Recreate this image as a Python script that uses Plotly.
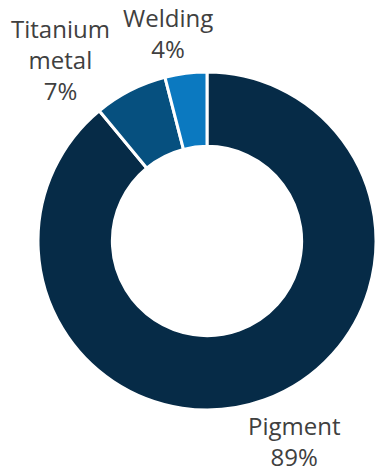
import plotly.graph_objects as go

labels = ["Pigment", "Titanium metal", "Welding"]
label_text = ["Pigment", "Titanium<br>metal", "Welding"]
values = [89, 7, 4]
colors = ["#062b47", "#06507f", "#0b79c0"]

# where each label block sits (pixels from top-left of the 377x474 page)
label_pos = [(294, 441), (60, 59), (168, 33)]

W, H = 377, 474

fig = go.Figure()

fig.add_trace(go.Pie(
    labels=labels,
    values=values,
    textinfo="none",
    hole=0.56,
    sort=False,
    direction="clockwise",
    rotation=0,
    marker=dict(colors=colors, line=dict(color="white", width=3)),
    domain=dict(x=[38 / W, 376 / W], y=[64 / H, 402 / H]),
    showlegend=False,
    hoverinfo="label+percent",
))

total = sum(values)
for txt, v, (px, py) in zip(label_text, values, label_pos):
    fig.add_annotation(
        x=px / W, y=1 - py / H, xref="paper", yref="paper",
        xanchor="center", yanchor="middle",
        text=f"{txt}<br>{round(100 * v / total)}%",
        showarrow=False,
        font=dict(family="Open Sans", size=24, color="#404040"),
    )

fig.update_layout(
    width=W,
    height=H,
    margin=dict(l=0, r=0, t=0, b=0),
    paper_bgcolor="white",
    plot_bgcolor="white",
)

# drop the default body margin so the figure sits at the page corner
fig.write_html(
    "out.html",
    config={"displayModeBar": False},
    post_script="document.body.style.margin='0';",
)
